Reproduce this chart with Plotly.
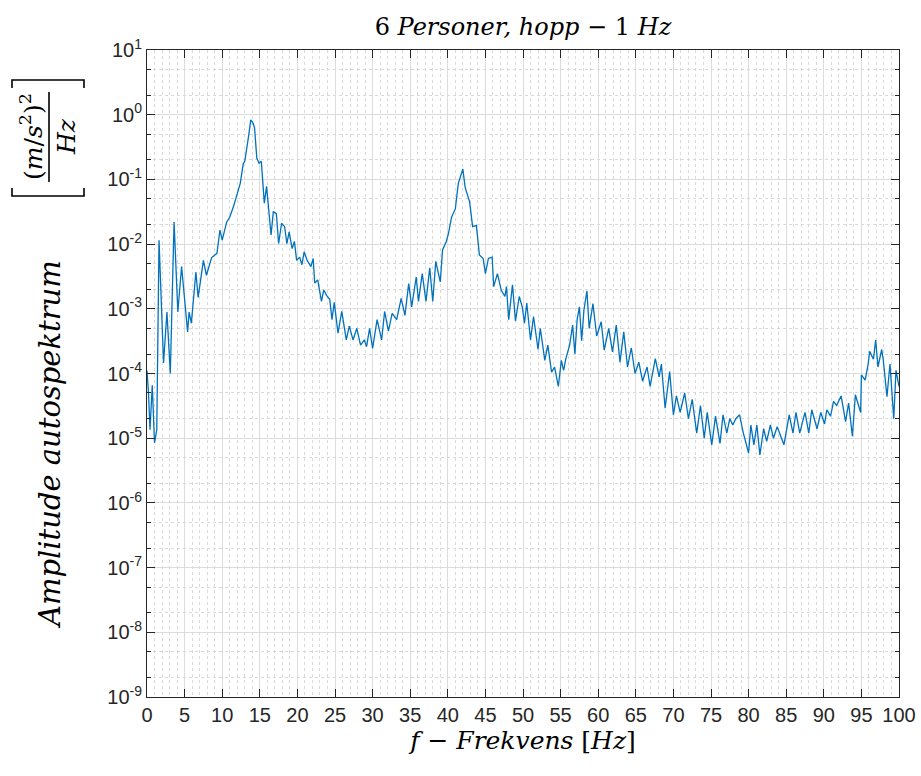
import plotly.graph_objects as go

# Frequency [Hz] and amplitude autospectrum [(m/s^2)^2/Hz]
freq = [0.0, 0.2, 0.4, 0.7, 1.0, 1.3, 1.6, 1.85, 2.2, 2.65, 3.1, 3.6, 4.1, 4.6, 5.0, 5.4, 5.6, 5.9,
        6.5, 6.8, 7.5, 7.9, 8.6, 9.3, 9.7, 10.0, 10.6, 11.0, 11.5, 11.9, 12.4, 12.8, 13.0, 13.5,
        13.8, 14.1, 14.3, 14.6, 14.9, 15.2, 15.6, 15.9, 16.1, 16.5, 16.8, 17.2, 17.5, 17.9, 18.3,
        18.6, 18.9, 19.3, 19.6, 19.9, 20.3, 20.6, 20.9, 21.3, 21.8, 22.1, 22.3, 22.7, 23.2, 23.5,
        23.9, 24.3, 24.6, 24.9, 25.4, 25.9, 26.5, 26.9, 27.4, 27.9, 28.4, 28.9, 29.2, 29.6, 30.0,
        30.6, 31.2, 31.6, 32.1, 32.6, 33.2, 33.8, 34.3, 34.8, 35.2, 35.8, 36.1, 36.6, 37.1, 37.6,
        38.0, 38.4, 39.0, 39.3, 39.8, 40.1, 40.5, 41.0, 41.4, 42.0, 42.3, 42.9, 43.3, 43.8, 44.2,
        44.7, 45.0, 45.4, 45.9, 46.1, 46.6, 47.1, 47.6, 47.8, 48.1, 48.6, 49.0, 49.5, 49.9, 50.2,
        50.5, 51.0, 51.4, 52.0, 52.3, 52.9, 53.3, 53.8, 54.2, 54.7, 55.1, 55.4, 55.7, 56.2, 56.6,
        56.9, 57.2, 57.5, 57.8, 58.1, 58.5, 58.8, 59.3, 59.8, 60.4, 60.8, 61.4, 61.9, 62.4, 62.9,
        63.4, 63.9, 64.4, 64.9, 65.4, 65.9, 66.5, 66.9, 67.6, 68.1, 68.4, 68.9, 69.5, 70.0, 70.4,
        70.9, 71.5, 72.0, 72.5, 73.1, 73.6, 74.1, 74.5, 75.1, 75.6, 76.2, 76.6, 77.1, 77.5, 77.9,
        78.3, 78.8, 79.3, 80.0, 80.3, 80.7, 81.1, 81.5, 82.0, 82.4, 82.9, 83.3, 83.8, 84.2, 84.7,
        85.4, 85.9, 86.3, 86.8, 87.5, 88.0, 88.4, 89.1, 89.6, 90.1, 90.4, 90.9, 91.3, 91.7, 92.3,
        92.9, 93.3, 93.8, 94.2, 94.6, 94.9, 95.0, 95.5, 95.9, 96.1, 96.6, 96.9, 97.2, 97.7, 97.9,
        98.4, 98.8, 99.3, 99.6, 100.0]

amplitude = [1.1e-4, 5.0e-5, 1.35e-5, 6.6e-5, 8.5e-6, 1.35e-5, 1.15e-2, 1.4e-3, 1.45e-4, 8.9e-4,
             1.0e-4, 2.2e-2, 8.9e-4, 4.5e-3, 1.5e-3, 4.4e-4, 8.9e-4, 6.0e-4, 3.7e-3, 1.5e-3,
             5.6e-3, 3.3e-3, 6.2e-3, 7.2e-3, 1.65e-2, 1.15e-2, 2.2e-2, 2.6e-2, 3.8e-2, 5.4e-2,
             8.7e-2, 0.174, 0.19, 0.457, 0.83, 0.74, 0.63, 0.214, 0.178, 0.19, 4.3e-2, 7.8e-2,
             4.3e-2, 1.38e-2, 3.2e-2, 2.95e-2, 1.02e-2, 2.1e-2, 1.86e-2, 1.02e-2, 1.55e-2, 8.5e-3,
             1.1e-2, 5.6e-3, 6.3e-3, 4.8e-3, 7.6e-3, 5.6e-3, 4.5e-3, 6.0e-3, 2.5e-3, 2.8e-3,
             1.3e-3, 1.95e-3, 1.6e-3, 1.4e-3, 6.8e-4, 1.26e-3, 4.2e-4, 9.1e-4, 3.3e-4, 5.4e-4,
             3.3e-4, 5.0e-4, 2.75e-4, 3.3e-4, 2.6e-4, 5.0e-4, 2.45e-4, 6.8e-4, 3.3e-4, 9.1e-4,
             4.5e-4, 8.5e-4, 6.8e-4, 1.45e-3, 7.9e-4, 2.45e-3, 1.07e-3, 3.1e-3, 1.3e-3, 3.5e-3,
             1.3e-3, 4.3e-3, 1.3e-3, 5.4e-3, 2.6e-3, 8.1e-3, 1.1e-2, 1.48e-2, 2.6e-2, 3.5e-2,
             8.7e-2, 0.145, 7.6e-2, 4.5e-2, 1.86e-2, 1.95e-2, 6.8e-3, 6.0e-3, 3.5e-3, 6.0e-3,
             6.3e-3, 2.2e-3, 3.5e-3, 1.95e-3, 1.55e-3, 2.2e-3, 6.8e-4, 2.35e-3, 6.5e-4, 1.55e-3,
             1.07e-3, 6.0e-4, 1.23e-3, 3.3e-4, 7.6e-4, 2.35e-4, 5.0e-4, 1.6e-4, 2.75e-4, 1.05e-4,
             1.26e-4, 6.3e-5, 1.6e-4, 1.12e-4, 1.7e-4, 2.75e-4, 5.6e-4, 2.0e-4, 6.8e-4, 1.07e-3,
             3.2e-4, 9.5e-4, 1.9e-3, 5.0e-4, 1.2e-3, 3.8e-4, 6.3e-4, 2.3e-4, 5.0e-4, 2.15e-4,
             5.6e-4, 1.5e-4, 4.4e-4, 1.26e-4, 2.5e-4, 1.0e-4, 1.5e-4, 7.6e-5, 1.26e-4, 6.3e-5,
             1.7e-4, 8.9e-5, 1.4e-4, 2.9e-5, 1.07e-4, 2.3e-5, 4.5e-5, 2.5e-5, 5.0e-5, 2.0e-5,
             4.0e-5, 1.2e-5, 3.2e-5, 1.0e-5, 2.5e-5, 7.9e-6, 2.2e-5, 8.3e-6, 2.3e-5, 1.2e-5,
             2.0e-5, 1.6e-5, 2.0e-5, 2.3e-5, 1.2e-5, 5.9e-6, 1.6e-5, 7.9e-6, 1.6e-5, 5.5e-6,
             1.4e-5, 8.9e-6, 1.6e-5, 1.0e-5, 1.5e-5, 1.12e-5, 7.9e-6, 2.3e-5, 1.2e-5, 2.5e-5,
             1.2e-5, 2.5e-5, 1.2e-5, 2.75e-5, 1.4e-5, 2.5e-5, 1.66e-5, 2.75e-5, 2.2e-5, 3.7e-5,
             3.2e-5, 4.5e-5, 1.8e-5, 3.5e-5, 1.07e-5, 4.7e-5, 3.2e-5, 2.5e-5, 9.5e-5, 7.9e-5,
             1.4e-4, 2.2e-4, 1.66e-4, 3.3e-4, 1.26e-4, 2.35e-4, 1.66e-4, 4.4e-5, 1.4e-4, 2.0e-5,
             1.12e-4, 6.3e-5]

x_ticks = [0, 5, 10, 15, 20, 25, 30, 35, 40, 45, 50, 55, 60, 65, 70, 75, 80, 85, 90, 95, 100]
y_tick_exponents = [1, 0, -1, -2, -3, -4, -5, -6, -7, -8, -9]

title_text = "6 <i>Personer, hopp</i> \u2212 1 <i>Hz</i>"
xlabel_text = "<i>f</i> \u2212 <i>Frekvens</i> [<i>Hz</i>]"
ylabel_text = "<i>Amplitude autospektrum</i>"
ylabel_num = "(<i>m</i>/<i>s</i><sup>2</sup>)<sup>2</sup>"
ylabel_den = "<i>Hz</i>"

W, H = 921, 776
ML, MR, MT, MB = 147, 22, 50, 79
PW, PH = W - ML - MR, H - MT - MB


def px(x):
    return (x - ML) / PW


def py(y):
    return (H - MB - y) / PH


fig = go.Figure()
fig.add_trace(go.Scatter(x=freq, y=amplitude, mode="lines",
                         line=dict(color="#0072BD", width=1.3), showlegend=False))

tickfont = dict(family="Liberation Sans, Arial, sans-serif", size=20, color="#262626")
serif = "DejaVu Serif, serif"

fig.update_layout(
    width=W, height=H,
    margin=dict(l=ML, r=MR, t=MT, b=MB, autoexpand=False),
    paper_bgcolor="white", plot_bgcolor="white",
    title=dict(text=title_text, x=px((ML + W - MR) / 2), xref="paper", xanchor="center",
               y=1 - 27 / H, yanchor="middle",
               font=dict(family=serif, size=24, color="#000000")),
    xaxis=dict(range=[0, 100], tickvals=x_ticks, ticktext=[str(v) for v in x_ticks],
               ticks="inside", ticklen=8, tickcolor="#262626", automargin=False,
               showline=True, linecolor="#262626", linewidth=1, mirror="ticks",
               showgrid=True, gridcolor="#dcdcdc", gridwidth=1,
               minor=dict(dtick=1, showgrid=True, gridcolor="#d9d9d9", griddash="dot", ticks=""),
               tickfont=tickfont, zeroline=False,
               title=dict(text=xlabel_text, font=dict(family=serif, size=25, color="#000"),
                          standoff=6)),
    yaxis=dict(type="log", range=[-9, 1],
               tickvals=[10.0 ** e for e in y_tick_exponents],
               ticktext=["10<sup>%d</sup>" % e for e in y_tick_exponents],
               ticks="inside", ticklen=8, tickcolor="#262626", automargin=False,
               showline=True, linecolor="#262626", linewidth=1, mirror="ticks",
               showgrid=True, gridcolor="#dcdcdc", gridwidth=1,
               minor=dict(ticks="inside", ticklen=4, tickcolor="#262626",
                          showgrid=True, gridcolor="#d9d9d9", griddash="dot"),
               tickfont=tickfont, zeroline=False),
)

anns = [
    dict(text=ylabel_text, x=px(50), y=py(445), textangle=-90,
         font=dict(family=serif, size=29, color="#000")),
    dict(text=ylabel_num, x=px(31), y=py(137), textangle=-90,
         font=dict(family=serif, size=25, color="#000")),
    dict(text=ylabel_den, x=px(66), y=py(137), textangle=-90,
         font=dict(family=serif, size=25, color="#000")),
]
for a in anns:
    a.update(xref="paper", yref="paper", showarrow=False, xanchor="center", yanchor="middle")
fig.update_layout(annotations=anns)

lc = dict(color="#000", width=1.6)
# fraction bar
fig.add_shape(type="line", xref="paper", yref="paper", x0=px(49), x1=px(49),
              y0=py(92), y1=py(182), line=lc)
# brackets (rotated)
fig.add_shape(type="path", xref="paper", yref="paper",
              path="M %f %f L %f %f L %f %f L %f %f" % (px(12), py(188), px(12), py(196),
                                                        px(84), py(196), px(84), py(188)),
              line=lc)
fig.add_shape(type="path", xref="paper", yref="paper",
              path="M %f %f L %f %f L %f %f L %f %f" % (px(12), py(88), px(12), py(80),
                                                        px(84), py(80), px(84), py(88)),
              line=lc)

fig.write_html("out.html")
